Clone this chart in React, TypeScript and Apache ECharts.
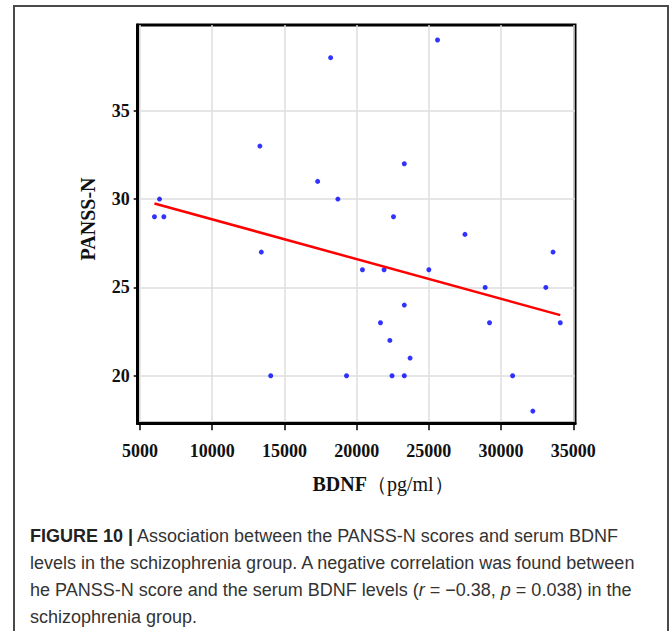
import React, { useEffect, useRef } from "react";
import * as echarts from "echarts";

// Data
const bdnf = [6000, 6350, 6650, 13300, 13400, 14050, 17300, 18200, 18700, 19300, 20400, 21650, 21900, 22300, 22450, 22550, 23300, 23300, 23300, 23700, 25000, 25600, 27500, 28900, 29200, 30800, 32200, 33100, 33600, 34100];
const panssN = [29, 30, 29, 33, 27, 20, 31, 38, 30, 20, 26, 23, 26, 22, 20, 29, 32, 24, 20, 21, 26, 39, 28, 25, 23, 20, 18, 25, 27, 23];
// Fitted regression line endpoints (as drawn)
const fitX = [6000, 34100];
const fitY = [29.75, 23.43];
// Tick labels
const xTickValues = [5000, 10000, 15000, 20000, 25000, 30000, 35000];
const yTickValues = [20, 25, 30, 35];

const captionLines = [
  "{b|FIGURE 10 |} Association between the PANSS-N scores and serum BDNF",
  "levels in the schizophrenia group. A negative correlation was found between",
  "he PANSS-N score and the serum BDNF levels ({i|r} = −0.38, {i|p} = 0.038) in the",
  "schizophrenia group.",
];

export default function App() {
  const ref = useRef<HTMLDivElement>(null);
  useEffect(() => {
    if (!ref.current) return;
    const chart = echarts.init(ref.current, null, { renderer: "svg" });
    const serif = "'Liberation Serif', 'Times New Roman', serif";
    const sans = "'Liberation Sans', Arial, sans-serif";
    const points = bdnf.map((x, i) => [x, panssN[i]]);
    const fit = fitX.map((x, i) => [x, fitY[i]]);
    chart.setOption({
      animation: false,
      backgroundColor: "#ffffff",
      grid: {
        left: 137.7,
        right: 95,
        top: 25,
        bottom: 207.7,
        show: true,
        borderColor: "#000",
        borderWidth: 3,
        backgroundColor: "transparent",
      },
      xAxis: {
        type: "value",
        min: 4840,
        max: 35120,
        splitNumber: 6,
        axisLine: { show: true, onZero: false, lineStyle: { color: "#000", width: 3 } },
        axisTick: {
          show: true,
          length: 7,
          customValues: xTickValues,
          lineStyle: { color: "#000", width: 1.5 },
        },
        axisLabel: {
          customValues: xTickValues,
          formatter: (v: number) => String(v),
          fontFamily: serif,
          fontWeight: "bold",
          fontSize: 18,
          color: "#111",
          margin: 19,
        },
        splitLine: { show: true, lineStyle: { color: "#dedede", width: 1.5 } },
      },
      yAxis: {
        type: "value",
        min: 17.31,
        max: 39.85,
        splitNumber: 5,
        axisLine: { show: true, onZero: false, lineStyle: { color: "#000", width: 3 } },
        axisTick: {
          show: true,
          length: 4,
          customValues: yTickValues,
          lineStyle: { color: "#000", width: 1.5 },
        },
        axisLabel: {
          customValues: yTickValues,
          formatter: (v: number) => String(v),
          fontFamily: serif,
          fontWeight: "bold",
          fontSize: 18,
          color: "#111",
          margin: 8,
        },
        splitLine: { show: true, lineStyle: { color: "#dedede", width: 1.5 } },
      },
      series: [
        {
          type: "scatter",
          data: points,
          symbol: "circle",
          symbolSize: 5,
          itemStyle: { color: "#0000ff" },
          z: 3,
        },
        {
          type: "line",
          data: fit,
          showSymbol: false,
          symbol: "none",
          lineStyle: { color: "#ff0000", width: 2.5 },
          z: 4,
        },
      ],
      graphic: [
        {
          type: "rect",
          shape: { x: 14, y: 6, width: 654, height: 660 },
          style: { fill: "none", stroke: "#4a4a4a", lineWidth: 2 },
          silent: true,
        },
        {
          type: "text",
          x: 88,
          y: 219,
          rotation: Math.PI / 2,
          style: {
            text: "PANSS-N",
            font: `bold 20px ${serif}`,
            fill: "#111",
            align: "center",
            verticalAlign: "middle",
          },
        },
        {
          type: "text",
          x: 383,
          y: 484,
          style: {
            text: "{b|BDNF}{n|（pg/ml）}",
            align: "center",
            verticalAlign: "middle",
            rich: {
              b: { fontFamily: serif, fontWeight: "bold", fontSize: 20, fill: "#111" },
              n: { fontFamily: serif, fontSize: 20, fill: "#111" },
            },
          },
        },
        ...captionLines.map((line, i) => ({
          type: "text",
          x: 30,
          y: 536 + i * 27,
          style: {
            text: line,
            align: "left",
            verticalAlign: "middle",
            fontFamily: sans,
            fontSize: 18,
            fill: "#333",
            rich: {
              b: { fontFamily: sans, fontSize: 18, fontWeight: "bold", fill: "#222" },
              i: { fontFamily: sans, fontSize: 18, fontStyle: "italic", fill: "#333" },
            },
          },
        })),
      ],
    });
    return () => chart.dispose();
  }, []);
  return (
    <div
      ref={ref}
      style={{ position: "fixed", left: 0, top: 0, width: 670, height: 631, background: "#fff" }}
    />
  );
}
